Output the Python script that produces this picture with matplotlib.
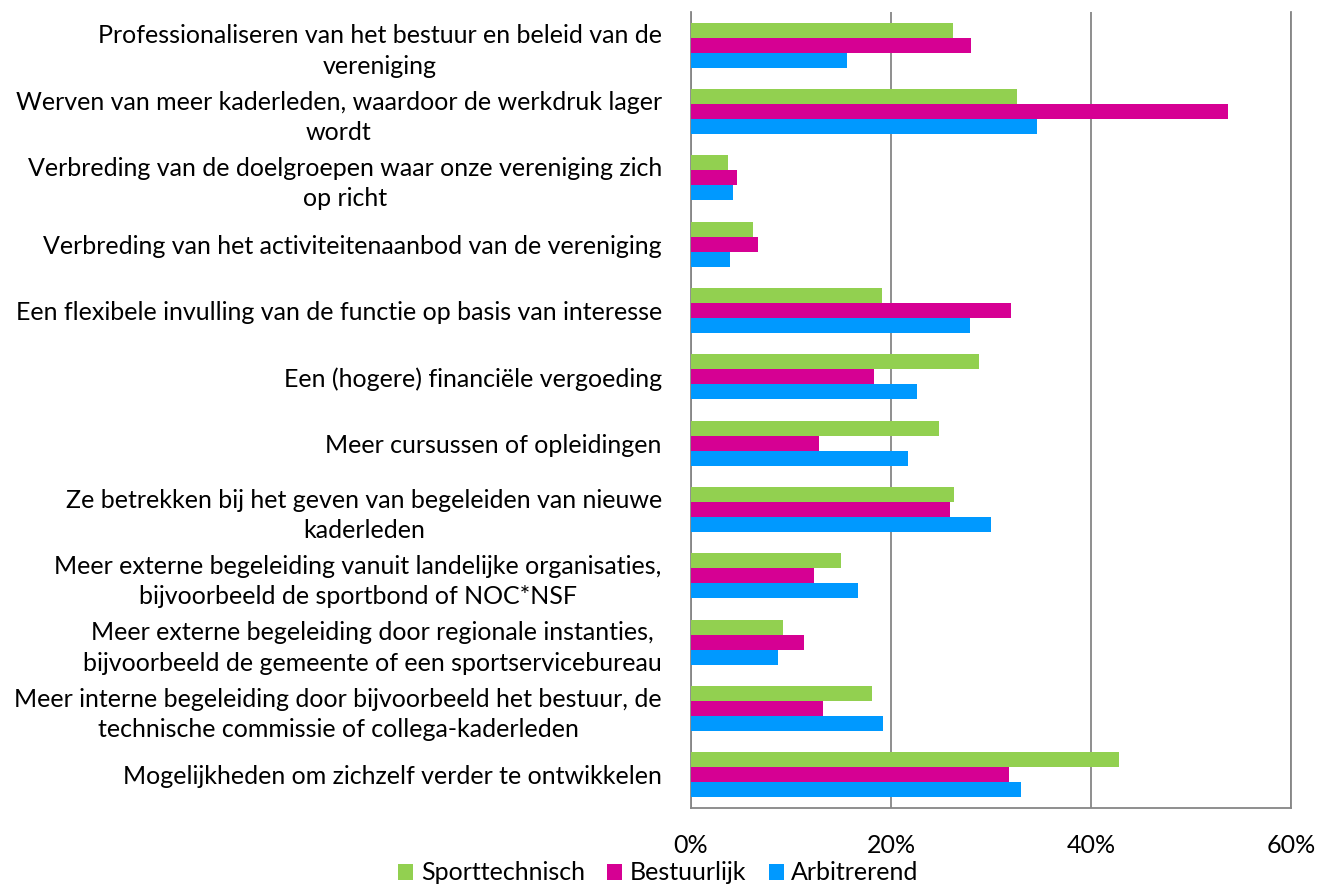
import numpy as np
import matplotlib
matplotlib.use('Agg')
import matplotlib.pyplot as plt
from matplotlib.ticker import PercentFormatter

plt.rcParams['font.family'] = ['Lato', 'DejaVu Sans']

categories = [
    "Professionaliseren van het bestuur en beleid van de\nvereniging",
    "Werven van meer kaderleden, waardoor de werkdruk lager\nwordt",
    "Verbreding van de doelgroepen waar onze vereniging zich\nop richt",
    "Verbreding van het activiteitenaanbod van de vereniging",
    "Een flexibele invulling van de functie op basis van interesse",
    "Een (hogere) financiële vergoeding",
    "Meer cursussen of opleidingen",
    "Ze betrekken bij het geven van begeleiden van nieuwe\nkaderleden",
    "Meer externe begeleiding vanuit landelijke organisaties,\nbijvoorbeeld de sportbond of NOC*NSF",
    "Meer externe begeleiding door regionale instanties,\nbijvoorbeeld de gemeente of een sportservicebureau",
    "Meer interne begeleiding door bijvoorbeeld het bestuur, de\ntechnische commissie of collega-kaderleden",
    "Mogelijkheden om zichzelf verder te ontwikkelen",
]

series_names = ["Sporttechnisch", "Bestuurlijk", "Arbitrerend"]
sporttechnisch = [26.2, 32.6, 3.7, 6.2, 19.1, 28.8, 24.8, 26.3, 15.0, 9.2, 18.1, 42.8]
bestuurlijk = [28.0, 53.7, 4.6, 6.7, 32.0, 18.3, 12.8, 25.9, 12.3, 11.3, 13.2, 31.8]
arbitrerend = [15.6, 34.6, 4.2, 3.9, 27.9, 22.6, 21.7, 30.0, 16.7, 8.7, 19.2, 33.0]
colors = ["#92D050", "#D60093", "#0099FF"]

fig = plt.figure(figsize=(13.17, 8.85), dpi=100)
ax = fig.add_axes([0.5247, 0.0870, 0.4556, 0.8994])

y = np.arange(len(categories))
h = 0.226
for i, (vals, name, c) in enumerate(zip([sporttechnisch, bestuurlijk, arbitrerend], series_names, colors)):
    ax.barh(y + (i - 1) * h, np.array(vals) / 100, height=h, color=c, label=name, zorder=3)

ax.set_xlim(0, 0.6)
ax.set_ylim(len(categories) - 0.5, -0.5)
ax.set_xticks([0, 0.2, 0.4, 0.6])
ax.xaxis.set_major_formatter(PercentFormatter(1.0, decimals=0))
ax.set_yticks(y)
ax.set_yticklabels(categories, multialignment='center', linespacing=1.4)
ax.tick_params(axis='y', length=0, pad=21, labelsize=18)
ax.tick_params(axis='x', length=0, pad=19, labelsize=18)

ax.grid(axis='x', color='#868686', linewidth=1.3, zorder=0)
ax.spines['top'].set_visible(False)
for s in ['left', 'bottom', 'right']:
    ax.spines[s].set_color('#868686')
    ax.spines[s].set_linewidth(1.3)

fig.legend(loc='center', bbox_to_anchor=(0.5, 0.0136), ncol=3, frameon=False,
           fontsize=18, handlelength=0.6, handleheight=0.6, handletextpad=0.3,
           columnspacing=0.9)

plt.savefig('out.png', dpi=100)
